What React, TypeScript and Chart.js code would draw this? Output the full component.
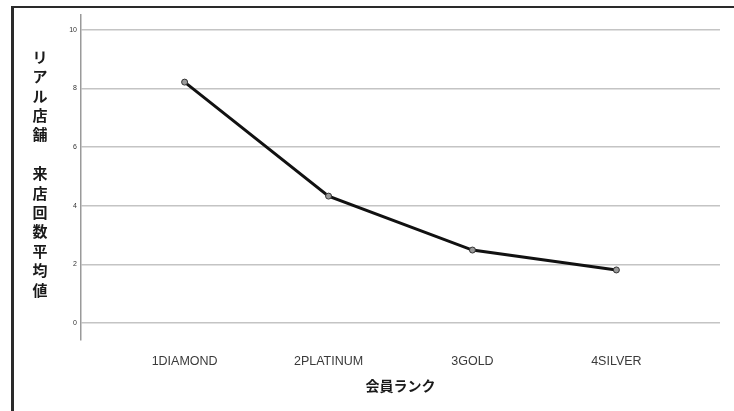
import React, { useEffect, useRef } from "react";
import { Chart, registerables } from "chart.js";

Chart.register(...registerables);

const categories = ["1DIAMOND", "2PLATINUM", "3GOLD", "4SILVER"];
const values = [8.22, 4.33, 2.49, 1.81];
const yTicks = [0, 2, 4, 6, 8, 10];
const yTitleChars = ["リ", "ア", "ル", "店", "舗", "", "来", "店", "回", "数", "平", "均", "値"];
const xTitle = "会員ランク";

const decorPlugin = {
  id: "decor",
  beforeDraw(chart: any) {
    const ctx = chart.ctx;
    ctx.save();
    ctx.fillStyle = "#ffffff";
    ctx.fillRect(0, 0, chart.width, chart.height);
    ctx.fillStyle = "#2a2a2a";
    ctx.fillRect(11, 6, 3, chart.height - 6);
    ctx.fillRect(11, 6, chart.width - 11, 2);
    ctx.restore();
  },
  afterDraw(chart: any) {
    const ctx = chart.ctx;
    ctx.save();
    ctx.fillStyle = "#1a1a1a";
    ctx.font = "bold 15px 'Noto Sans CJK JP'";
    ctx.textAlign = "center";
    ctx.textBaseline = "middle";
    yTitleChars.forEach((c, i) => {
      if (c) ctx.fillText(c, 40, 57 + i * 19.4);
    });
    ctx.restore();
  },
};

export default function App() {
  const ref = useRef<HTMLCanvasElement | null>(null);
  useEffect(() => {
    document.body.style.margin = "0";
    const chart = new Chart(ref.current!, {
      type: "scatter",
      data: {
        datasets: [
          {
            data: values.map((v, i) => ({ x: i, y: v })),
            showLine: true,
            borderColor: "#111111",
            borderWidth: 3,
            pointRadius: 3,
            pointBackgroundColor: "#9a9a9a",
            pointBorderColor: "#333333",
            pointBorderWidth: 1,
          },
        ],
      },
      options: {
        animation: false,
        responsive: false,
        layout: { padding: { top: 15, right: 14, left: 0, bottom: 0 } },
        plugins: { legend: { display: false }, tooltip: { enabled: false } },
        scales: {
          x: {
            type: "linear",
            min: -0.72,
            max: 3.72,
            afterBuildTicks: (s: any) => {
              s.ticks = categories.map((_, i) => ({ value: i }));
            },
            afterFit: (s: any) => {
              s.height = 71;
            },
            grid: { display: false },
            border: { display: false },
            ticks: {
              callback: (v: any) => categories[v] ?? "",
              color: "#3a3a3a",
              font: { family: "'Liberation Sans', Arial", size: 12.5 },
              padding: 6,
              maxRotation: 0,
              autoSkip: false,
            },
            title: {
              display: true,
              text: xTitle,
              color: "#1a1a1a",
              font: { family: "'Noto Sans CJK JP'", size: 14, weight: "bold" },
              padding: { top: 0, bottom: 17 },
            },
          },
          y: {
            min: -0.58,
            max: 10.51,
            afterBuildTicks: (s: any) => {
              s.ticks = yTicks.map((v) => ({ value: v }));
            },
            afterFit: (s: any) => {
              s.width = 81;
            },
            grid: { color: "#c4c4c4", lineWidth: 1.5, drawTicks: false },
            border: { display: true, color: "#9a9a9a", width: 1.5 },
            ticks: {
              color: "#333333",
              font: { family: "'Liberation Sans', Arial", size: 7 },
              padding: 4,
            },
          },
        },
      },
      plugins: [decorPlugin],
    } as any);
    return () => chart.destroy();
  }, []);
  return <canvas ref={ref} width={734} height={411} style={{ display: "block" }} />;
}
